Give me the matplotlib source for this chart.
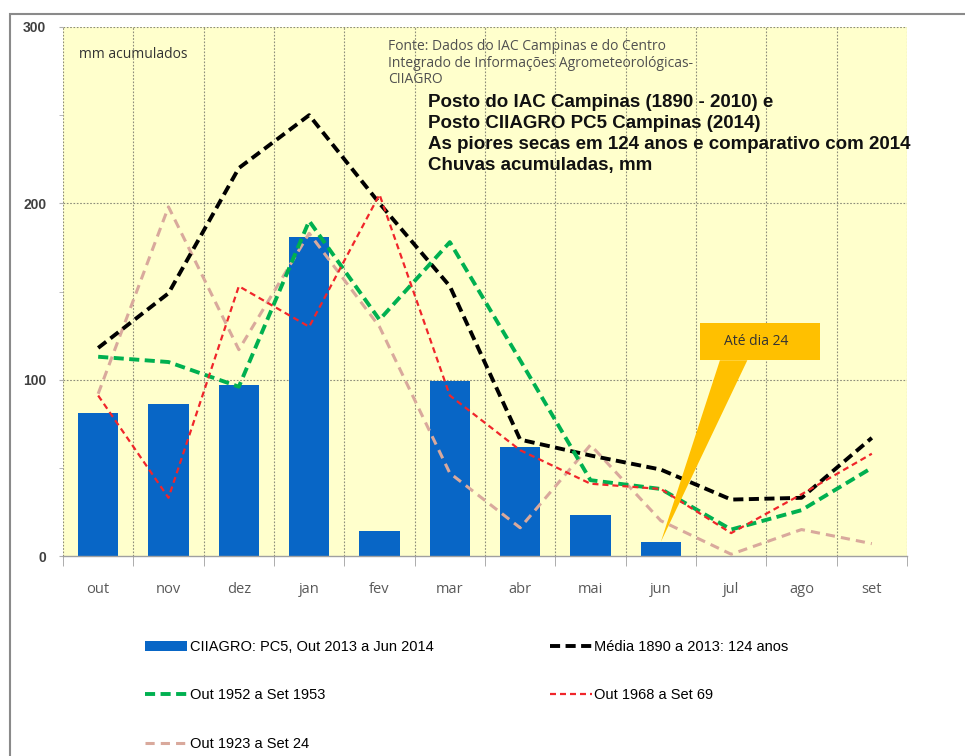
import matplotlib
matplotlib.use("Agg")

import matplotlib.pyplot as plt
from matplotlib.patches import Rectangle, Polygon
import numpy as np

# monthly rainfall, hydrological year Oct -> Sep (mm)
months = ["out", "nov", "dez", "jan", "fev", "mar", "abr", "mai", "jun", "jul", "ago", "set"]

ciiagro_2014 = [81, 86, 97, 181, 14, 99, 62, 23, 8]           # Out 2013 a Jun 2014 (up to jun 24)
media_124 = [118, 149, 220, 250, 200, 153, 66, 57, 49, 32, 33, 67]
seca_1952 = [113, 110, 96, 190, 134, 178, 111, 43, 38, 15, 26, 50]
seca_1968 = [91, 33, 153, 130, 205, 91, 60, 41, 38, 13, 35, 58]
seca_1923 = [92, 198, 117, 183, 130, 47, 16, 63, 20, 1, 15, 7]

x = np.arange(len(months))

fig = plt.figure(figsize=(9.65, 7.56), dpi=100)
ax = fig.add_axes([63 / 965, 1 - 556 / 756, 844 / 965, 529 / 756])
ax.set_facecolor("#FFFFCC")

bars = ax.bar(x[:len(ciiagro_2014)], ciiagro_2014, width=0.57, color="#0866C6",
              zorder=2, label="CIIAGRO: PC5, Out 2013 a Jun 2014")

l_media, = ax.plot(x, media_124, color="black", lw=2.8, dashes=(2.6, 1.4),
                   solid_joinstyle="round", dash_joinstyle="round", zorder=4,
                   label="Média 1890 a 2013: 124 anos")
l_1923, = ax.plot(x, seca_1923, color="#D9A99C", lw=2.2, dashes=(3.0, 2.0),
                  dash_joinstyle="round", zorder=3, label="Out 1923 a Set 24")
l_1952, = ax.plot(x, seca_1952, color="#00B050", lw=2.8, dashes=(2.6, 1.4),
                  dash_joinstyle="round", zorder=5, label="Out 1952 a Set 1953")
l_1968, = ax.plot(x, seca_1968, color="#F0262B", lw=1.6, dashes=(2.7, 1.8),
                  dash_joinstyle="round", zorder=6, label="Out 1968 a Set 69")

ax.set_xlim(-0.5, len(months) - 0.5)
ax.set_ylim(0, 300)

# grid: dotted lines at month boundaries and every 100 mm
for b in np.arange(-0.5, len(months), 1.0):
    ax.axvline(b, color="#8C8C7A", lw=0.8, ls=(0, (1.5, 1.5)), zorder=1)
for h in [100, 200, 300]:
    ax.axhline(h, color="#8C8C7A", lw=0.8, ls=(0, (1.5, 1.5)), zorder=1)

for s in ["top", "right", "left"]:
    ax.spines[s].set_visible(False)
ax.spines["bottom"].set_color("#A0A0A0")
ax.spines["bottom"].set_linewidth(1.0)

ax.set_xticks(x)
ax.set_xticklabels(months, fontsize=10.5, color="#595959", fontfamily="Open Sans")
ax.set_xticks(np.arange(-0.5, len(months), 1.0), minor=True)
ax.tick_params(axis="x", which="major", length=0, pad=19)
ax.tick_params(axis="x", which="minor", length=7, color="#A0A0A0", direction="out")

ax.set_yticks([0, 100, 200, 300])
ax.set_yticklabels(["0", "100", "200", "300"], fontsize=10, color="#404040",
                   fontfamily="Liberation Sans", fontweight="bold")
ax.set_yticks([50, 150, 250], minor=True)
ax.tick_params(axis="y", which="both", length=3, color="#B0B0B0", pad=9)

# callout for the partial June value
box_l, box_r, box_b, box_t = 8.56, 10.27, 111, 132
ax.add_patch(Polygon([[8.84, box_b], [9.23, box_b], [8.0, ciiagro_2014[8]]],
                     closed=True, facecolor="#FFC000", edgecolor="none", zorder=7))
ax.add_patch(Rectangle((box_l, box_b), box_r - box_l, box_t - box_b,
                       facecolor="#FFC000", edgecolor="none", zorder=7))
ax.text(9.35, 121.5, "Até dia 24", ha="center", va="center", fontsize=10,
        color="#333333", fontfamily="Open Sans", zorder=8)

# texts inside the plot area
fig.text(79 / 965, 1 - 54 / 756, "mm acumulados", fontsize=10, color="#333333",
         fontfamily="Open Sans", va="center")
fig.text(388 / 965, 1 - 39 / 756,
         "Fonte: Dados do IAC Campinas e do Centro\n"
         "Integrado de Informações Agrometeorológicas-\nCIIAGRO",
         fontsize=10, color="#505050", fontfamily="Open Sans", va="top",
         linespacing=1.15)
fig.text(428 / 965, 1 - 94 / 756,
         "Posto do IAC Campinas (1890 - 2010) e\n"
         "Posto CIIAGRO PC5 Campinas (2014)\n"
         "As piores secas em 124 anos e comparativo com 2014\n"
         "Chuvas acumuladas, mm",
         fontsize=13.5, fontweight="bold", color="#111111",
         fontfamily="Liberation Sans", va="top", linespacing=1.3)

# outer frame
fig.patches.append(Rectangle((10 / 965, -0.2), 1.5, 1 - 14 / 756 + 0.2,
                             transform=fig.transFigure, fill=False,
                             edgecolor="#8A8A8A", lw=1.5))

handles = [bars, l_1952, l_1923, l_media, l_1968]
labels = [h.get_label() for h in handles]
fig.legend(handles, labels, loc="upper left", bbox_to_anchor=(132 / 965, 1 - 627 / 756),
           ncol=2, frameon=False, handlelength=2.9, handletextpad=0.15,
           labelspacing=2.35, columnspacing=8.0,
           prop={"family": "Liberation Sans", "size": 10.5})

fig.savefig("out.png", dpi=100)
plt.close(fig)
